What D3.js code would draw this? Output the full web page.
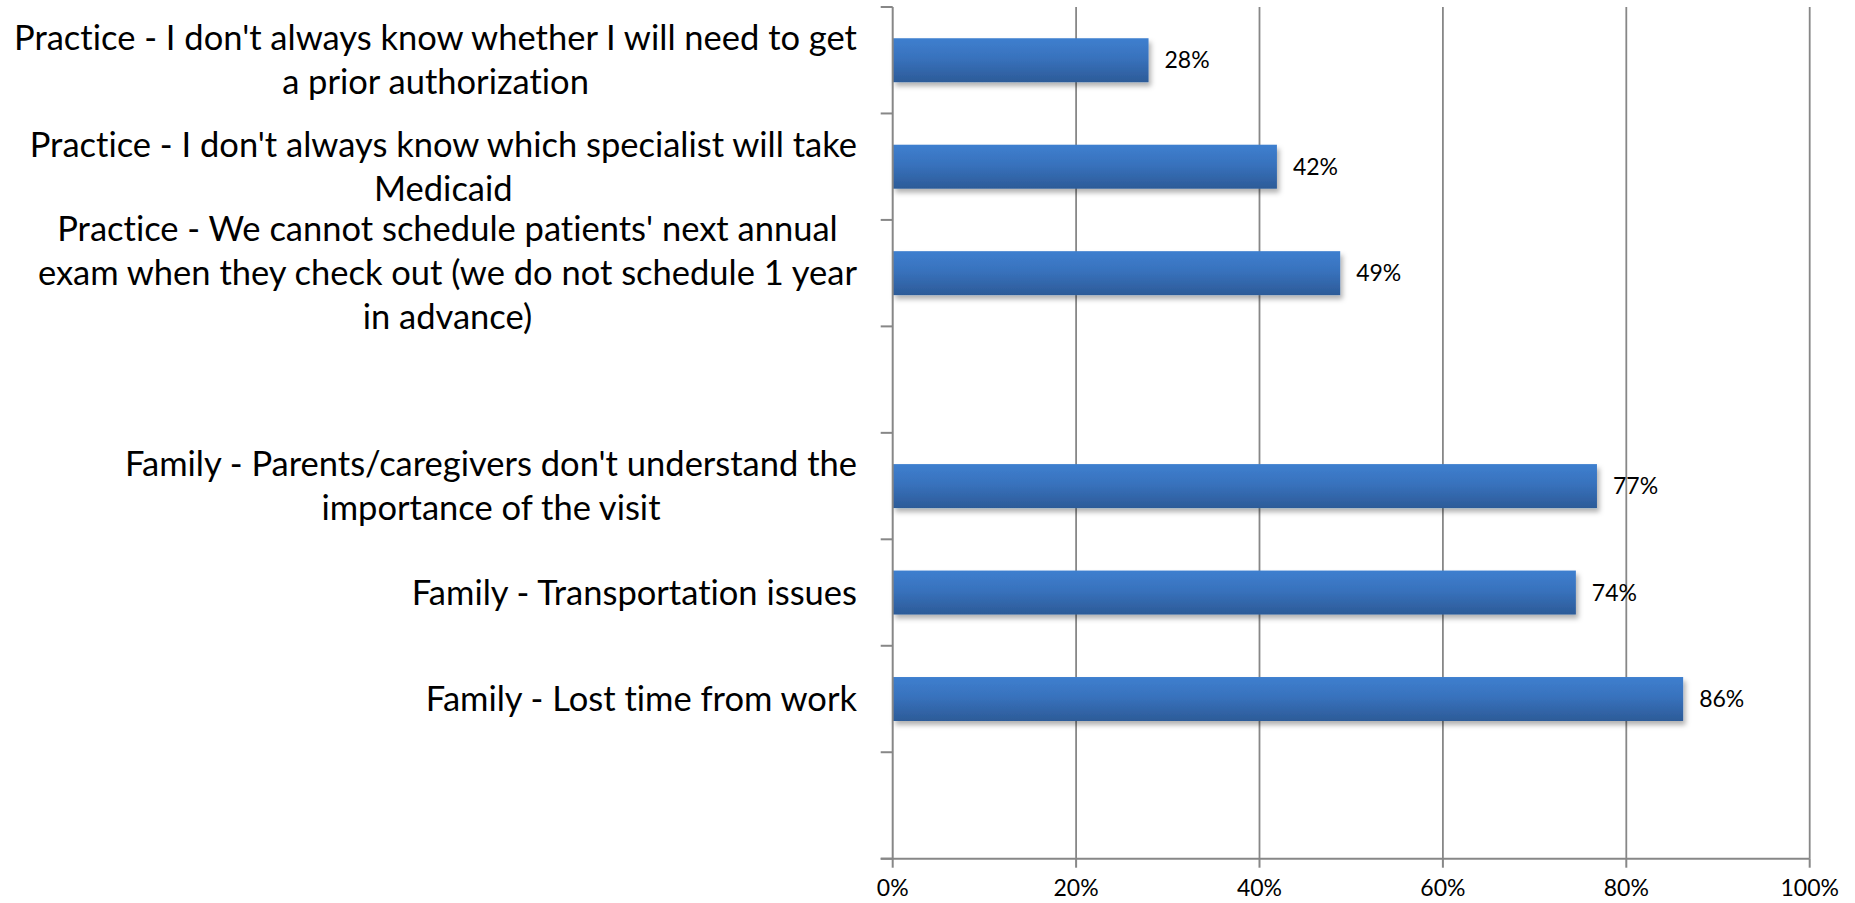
<!DOCTYPE html>
<html>
<head>
<meta charset="utf-8">
<script src="https://cdn.jsdelivr.net/npm/d3@7"></script>
<style>
  html, body { margin: 0; padding: 0; background: #fff; }
  svg { display: block; }
  text { font-family: Lato, "Open Sans", sans-serif; fill: #000; font-variant-ligatures: none; font-feature-settings: "liga" 0, "clig" 0; }
</style>
</head>
<body>
<svg id="chart" width="1855" height="903"></svg>
<script>
// ---- data ----
const categories = [
  "Practice - I don't always know whether I will need to get\na prior authorization",
  "Practice - I don't always know which specialist will take\nMedicaid",
  "Practice - We cannot schedule patients' next annual\nexam when they check out (we do not schedule 1 year\nin advance)",
  "",
  "Family - Parents/caregivers don't understand the\nimportance of the visit",
  "Family - Transportation issues",
  "Family - Lost time from work",
  ""
];
const values = [27.9, 41.9, 48.8, null, 76.8, 74.5, 86.2, null];
const valueLabels = ["28%", "42%", "49%", "", "77%", "74%", "86%", ""];
const xTicks = [0, 20, 40, 60, 80, 100];
const xTickLabels = ["0%", "20%", "40%", "60%", "80%", "100%"];

// ---- layout ----
(function () {
const svg = d3.select("#chart");
const pLeft = 892.7, pRight = 1809.7, pTop = 7, pBottom = 858.7;
const x = d3.scaleLinear().domain([0, 100]).range([pLeft, pRight]);
const pad = 0.587;
const y = d3.scaleBand().domain(d3.range(categories.length))
  .range([pTop, pBottom]).paddingInner(pad).paddingOuter(pad / 2);
const slot = d3.scaleLinear().domain([0, categories.length]).range([pTop, pBottom]);

const defs = svg.append("defs");
const grad = defs.append("linearGradient").attr("id", "barGrad")
  .attr("x1", 0).attr("y1", 0).attr("x2", 0).attr("y2", 1);
grad.append("stop").attr("offset", "0%").attr("stop-color", "#3e7fcf");
grad.append("stop").attr("offset", "45%").attr("stop-color", "#3872bd");
grad.append("stop").attr("offset", "100%").attr("stop-color", "#2c5b98");
const f = defs.append("filter").attr("id", "shadow")
  .attr("x", "-5%").attr("y", "-20%").attr("width", "115%").attr("height", "160%");
f.append("feDropShadow").attr("dx", 2.5).attr("dy", 4).attr("stdDeviation", 2.5)
  .attr("flood-color", "#000").attr("flood-opacity", 0.3);

const axisColor = "#878787";

// gridlines
svg.append("g").selectAll("line").data(xTicks.filter(d => d > 0)).join("line")
  .attr("x1", d => x(d)).attr("x2", d => x(d))
  .attr("y1", pTop).attr("y2", pBottom)
  .attr("stroke", axisColor).attr("stroke-width", 1.8);

// bars
const idx = d3.range(categories.length).filter(i => values[i] != null);
svg.append("g").selectAll("rect").data(idx).join("rect")
  .attr("x", x(0)).attr("y", i => y(i))
  .attr("width", i => x(values[i]) - x(0)).attr("height", y.bandwidth())
  .attr("fill", "url(#barGrad)").attr("filter", "url(#shadow)");

// value labels
svg.append("g").selectAll("text").data(idx).join("text")
  .attr("x", i => x(values[i]) + 16).attr("y", i => y(i) + y.bandwidth() / 2)
  .attr("dy", "0.35em").attr("font-size", 23)
  .text(i => valueLabels[i]);

// y axis
svg.append("line").attr("x1", pLeft).attr("x2", pLeft).attr("y1", pTop).attr("y2", pBottom)
  .attr("stroke", axisColor).attr("stroke-width", 2);
svg.append("g").selectAll("line").data(d3.range(categories.length + 1)).join("line")
  .attr("x1", pLeft - 12).attr("x2", pLeft).attr("y1", d => slot(d)).attr("y2", d => slot(d))
  .attr("stroke", axisColor).attr("stroke-width", 2);

// x axis
svg.append("line").attr("x1", pLeft - 12).attr("x2", pRight).attr("y1", pBottom).attr("y2", pBottom)
  .attr("stroke", axisColor).attr("stroke-width", 2);
svg.append("g").selectAll("line").data(xTicks).join("line")
  .attr("x1", d => x(d)).attr("x2", d => x(d)).attr("y1", pBottom).attr("y2", pBottom + 9)
  .attr("stroke", axisColor).attr("stroke-width", 2);
svg.append("g").selectAll("text").data(xTicks).join("text")
  .attr("x", d => x(d)).attr("y", 888).attr("dy", "0.35em")
  .attr("text-anchor", "middle").attr("font-size", 23)
  .text((d, i) => xTickLabels[i]);

// category labels (wrapped, centered within block, block right-aligned)
const labelRight = 857, lineH = 44, catSize = 34.5;
const cg = svg.append("g");
categories.forEach((c, i) => {
  if (!c) return;
  const lines = c.split("\n");
  const g = cg.append("g");
  const cy = y(i) + y.bandwidth() / 2;
  const ts = lines.map((ln, k) => g.append("text")
    .attr("y", cy + (k - (lines.length - 1) / 2) * lineH)
    .attr("dy", "0.35em").attr("font-size", catSize)
    .attr("text-anchor", "middle").text(ln));
  const maxW = d3.max(ts, t => t.node().getComputedTextLength());
  ts.forEach(t => t.attr("x", labelRight - maxW / 2));
});
})();
</script>
</body>
</html>
